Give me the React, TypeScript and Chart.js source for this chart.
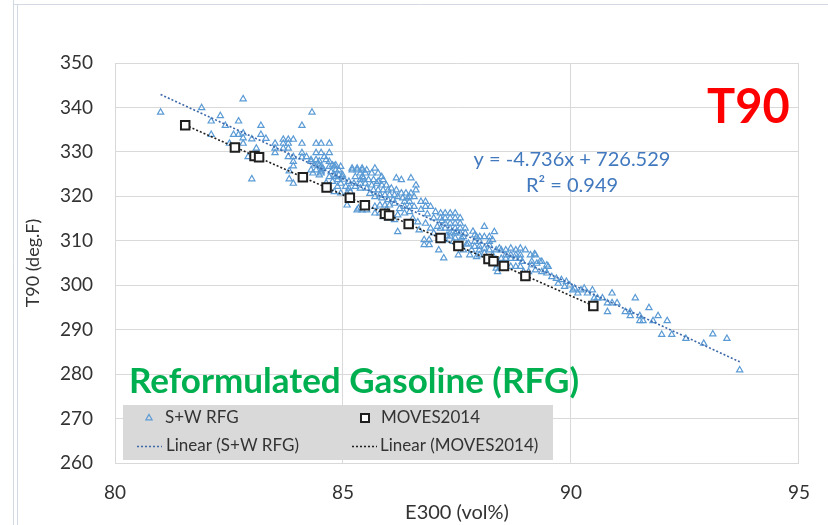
import React, { useEffect, useRef } from 'react';
import { Chart, registerables } from 'chart.js';

Chart.register(...registerables);

// ---- Axis ticks ----
const xTickValues = [80, 85, 90, 95];
const yTickValues = [260, 270, 280, 290, 300, 310, 320, 330, 340, 350];

// ---- Titles / labels ----
const xAxisTitle = 'E300 (vol%)';
const yAxisTitle = 'T90 (deg.F)';
const chartTag = 'T90';
const fuelLabel = 'Reformulated Gasoline (RFG)';
const legendLabels = ['S+W RFG', 'MOVES2014', 'Linear (S+W RFG)', 'Linear (MOVES2014)'];

// ---- S+W RFG trendline (as reported on chart) ----
const swSlope = -4.736;
const swIntercept = 726.529;
const swR2 = 0.949;

// ---- S+W RFG data: E300 (vol%) ----
const swE300 = [
  81.00, 81.90, 82.81, 82.31, 82.11, 82.42, 82.11, 82.71, 82.60, 82.71, 83.20, 83.20, 83.31, 82.81, 82.81, 82.81,
  83.00, 82.51, 82.92, 83.10, 83.10, 83.00, 83.51, 83.51, 83.51, 83.69, 83.80, 83.91, 83.69, 83.80, 83.69, 83.80,
  84.10, 84.32, 84.10, 84.41, 84.52, 84.70, 83.80, 83.91, 84.10, 84.10, 84.41, 84.52, 84.70, 83.91, 83.91, 83.82,
  83.82, 83.91, 84.30, 84.41, 84.48, 84.63, 84.41, 84.52,
  84.48, 84.56, 84.34, 84.52, 84.70, 84.81, 84.91, 84.81, 84.70, 84.99, 85.20, 85.31, 85.42, 85.27, 85.42, 85.13,
  85.38, 85.06, 85.27, 84.88,
  85.20, 85.31, 85.42, 85.52, 85.70, 85.63, 85.77, 85.85, 85.38, 85.49, 85.45, 85.56, 85.67, 85.77, 85.88, 85.24,
  85.38, 85.49, 85.63, 85.74, 85.85, 85.95, 86.06, 86.17, 86.28, 86.49, 85.38, 85.52, 85.67, 85.77, 85.88, 85.99,
  86.17, 86.28, 86.38, 86.49, 86.13, 85.81, 85.92, 86.02, 85.70, 85.85, 85.99, 86.10, 86.20, 86.31, 86.42, 86.13,
  86.02, 85.92, 85.81, 85.70, 85.31, 85.34, 85.42, 85.52, 85.45, 85.09, 84.84, 84.95, 84.84, 84.91, 84.98, 84.88,
  84.77, 84.95, 84.81, 84.95, 84.30, 84.37, 84.45, 84.52, 84.30, 84.52, 84.48, 84.70, 84.77, 84.84, 85.09, 85.13,
  84.20, 84.59,
  86.46, 86.56, 86.35, 86.46, 86.35, 86.46, 86.56, 86.60, 86.60, 86.71, 86.81, 86.71, 86.81, 86.46, 86.35, 86.20,
  86.13, 85.99, 85.88, 85.81, 85.70, 86.20, 86.67, 86.78, 86.89, 86.78, 86.89, 87.10, 87.21, 86.99, 87.14, 87.24,
  87.35, 87.46, 87.57, 87.46, 87.35, 87.24, 87.35, 87.46, 87.57, 87.14, 87.24, 87.35, 87.46, 87.57, 87.68, 87.35,
  87.46, 87.57, 87.68, 87.35, 87.46, 87.60, 88.10, 87.89, 88.00, 88.10, 88.21, 88.32, 88.28, 88.21, 88.00, 87.89,
  88.43, 88.57, 88.68, 88.79, 88.89, 89.00, 89.11, 89.22, 89.14, 88.93, 88.36, 88.39, 86.81, 86.92, 86.99, 86.92,
  87.03, 87.14, 87.24, 87.24,
  87.50, 87.64, 87.75, 87.64, 87.53, 87.82, 87.93, 87.99, 88.10, 88.21, 88.28, 88.36, 87.78, 87.89, 87.99, 87.93,
  87.99, 88.10, 88.21, 88.36, 88.47, 88.57, 88.68, 88.79, 88.89, 88.47, 88.57, 88.68, 88.79, 88.89, 88.57, 88.68,
  88.79, 88.89, 88.39, 89.20, 88.96, 89.07, 89.14, 89.25, 89.32, 89.50, 89.36, 89.47, 89.58, 89.68, 89.79, 89.90,
  89.97, 90.08, 90.15, 90.22, 90.29, 90.36, 90.47, 90.51, 90.58, 90.69, 90.90, 90.80, 90.90, 91.01, 90.80, 91.41,
  91.19, 91.30, 91.30, 91.51, 91.51, 91.58, 91.80, 91.71, 91.91, 92.11, 91.99, 92.21, 92.52, 92.91, 93.11, 93.42,
  93.70, 89.72, 89.86, 90.04, 89.43, 89.22, 89.36, 89.47,
  84.63, 84.74, 85.02, 85.16, 85.59, 85.95, 86.24, 86.53, 86.64, 86.85, 87.07, 87.17, 87.28, 87.42, 87.71, 87.85,
];

// ---- S+W RFG data: T90 (deg.F) ----
const swT90 = [
  338.9, 339.9, 341.9, 338.1, 336.9, 335.9, 333.9, 336.9, 333.9, 333.9, 335.9, 333.9, 333.0, 334.2, 333.1, 331.9,
  332.9, 331.9, 328.9, 328.8, 330.8, 323.9, 331.9, 330.8, 329.8, 332.8, 332.8, 332.8, 331.9, 331.9, 330.8, 330.8,
  335.9, 338.9, 331.9, 331.9, 331.9, 331.9, 328.9, 328.9, 329.8, 328.8, 329.8, 329.8, 329.8, 327.8, 326.8, 325.7,
  323.9, 322.9, 328.2, 328.2, 327.9, 328.2, 325.9, 325.9,
  327.0, 326.3, 325.2, 325.2, 327.8, 326.8, 325.9, 324.8, 324.4, 324.8, 325.9, 325.9, 325.9, 324.4, 324.4, 323.3,
  323.7, 322.2, 322.2, 322.2,
  326.3, 326.3, 326.3, 325.9, 326.3, 325.2, 325.2, 324.4, 325.2, 325.2, 324.1, 323.7, 323.7, 323.3, 323.7, 322.9,
  322.9, 322.9, 322.5, 322.9, 322.5, 322.5, 321.8, 324.1, 323.7, 324.1, 321.8, 321.8, 321.4, 321.4, 321.4, 321.4,
  321.4, 320.7, 320.7, 320.7, 320.3, 320.3, 320.3, 320.3, 319.9, 319.6, 319.2, 319.2, 319.9, 319.6, 319.6, 318.4,
  318.0, 318.0, 318.0, 317.7, 316.9, 317.3, 316.9, 316.9, 318.0, 318.0, 327.0, 326.7, 325.9, 324.8, 324.4, 323.7,
  323.3, 322.9, 321.0, 320.7, 327.8, 327.0, 327.4, 326.7, 325.9, 325.6, 324.8, 326.7, 327.0, 324.4, 320.7, 321.8,
  328.9, 328.9,
  319.9, 319.9, 318.8, 318.8, 317.7, 317.7, 317.7, 322.5, 321.4, 318.8, 318.8, 317.0, 317.7, 316.5, 316.2, 315.8,
  314.7, 315.1, 315.4, 316.2, 316.2, 312.0, 312.4, 310.2, 310.2, 309.1, 309.1, 307.9, 306.1, 315.1, 315.1, 315.1,
  315.1, 315.1, 315.1, 316.2, 316.2, 313.9, 313.9, 313.9, 313.9, 312.8, 312.8, 312.8, 312.8, 312.8, 312.8, 311.7,
  311.7, 311.7, 311.7, 311.0, 310.6, 310.6, 313.2, 311.3, 310.9, 310.9, 310.9, 312.0, 310.2, 309.8, 309.8, 309.8,
  308.3, 307.9, 308.3, 307.9, 308.3, 307.9, 306.8, 306.8, 305.3, 305.3, 303.8, 303.0, 313.9, 312.8, 311.7, 317.7,
  316.5, 316.2, 316.2, 310.2,
  312.0, 310.9, 309.4, 307.9, 306.8, 307.9, 306.4, 307.9, 307.2, 307.9, 306.8, 305.7, 306.8, 308.7, 308.7, 310.9,
  306.8, 308.3, 309.0, 307.9, 307.9, 306.8, 306.8, 306.8, 306.8, 306.0, 306.0, 306.0, 306.0, 306.0, 304.2, 304.2,
  304.2, 304.2, 304.5, 307.0, 303.0, 303.0, 304.5, 304.9, 305.3, 304.2, 303.0, 302.7, 301.9, 301.5, 301.2, 300.8,
  300.0, 299.3, 298.2, 298.9, 299.3, 298.2, 298.9, 297.1, 297.1, 297.1, 298.2, 296.0, 296.0, 296.0, 294.0, 297.1,
  294.0, 294.0, 293.1, 293.1, 292.0, 292.0, 292.0, 294.9, 293.1, 292.0, 288.9, 288.9, 288.0, 286.9, 289.0, 288.0,
  280.9, 300.4, 299.7, 298.9, 303.4, 303.4, 305.3, 304.5,
  323.0, 325.5, 323.8, 321.0, 320.6, 317.0, 317.2, 315.0, 314.2, 316.0, 313.2, 314.5, 311.2, 309.8, 309.2, 312.1,
];

// ---- MOVES2014 data ----
const movesE300 = [81.54, 82.63, 83.06, 83.16, 84.12, 84.64, 85.15, 85.48, 85.92, 86.01, 86.44, 87.14, 87.53, 88.19, 88.30, 88.53, 89.00, 90.49];
const movesT90 = [336.0, 331.0, 329.1, 328.8, 324.3, 322.0, 319.7, 318.0, 316.1, 315.7, 313.8, 310.6, 308.8, 305.9, 305.4, 304.3, 302.1, 295.3];

// ---- Colours / fonts ----
const FONT = 'Lato, "Open Sans", sans-serif';
const TEXT = '#333333';
const GRID = '#D9D9D9';
const SW_COLOR = '#5B9BD5';
const SW_LINE = '#3C67A8';
const MOVES_COLOR = '#1F1F1F';

function linReg(xs: number[], ys: number[]) {
  const n = xs.length;
  let sx = 0, sy = 0, sxx = 0, sxy = 0;
  for (let i = 0; i < n; i++) { sx += xs[i]; sy += ys[i]; sxx += xs[i] * xs[i]; sxy += xs[i] * ys[i]; }
  const m = (n * sxy - sx * sy) / (n * sxx - sx * sx);
  const b = (sy - m * sx) / n;
  return { m, b };
}

const decorPlugin = {
  id: 'decor',
  afterDraw(chart: any) {
    const ctx = chart.ctx as CanvasRenderingContext2D;
    ctx.save();
    // slide frame lines
    ctx.strokeStyle = '#D3D9E2';
    ctx.lineWidth = 1;
    ctx.beginPath();
    ctx.moveTo(13, 4.5); ctx.lineTo(828, 4.5);
    ctx.moveTo(13.5, 0); ctx.lineTo(13.5, 525);
    ctx.moveTo(17.5, 5); ctx.lineTo(17.5, 525);
    ctx.stroke();

    // T90 tag
    ctx.fillStyle = '#FF0000';
    ctx.font = `bold 47px ${FONT}`;
    ctx.textAlign = 'left';
    ctx.textBaseline = 'alphabetic';
    ctx.fillText(chartTag, 707, 123);

    // equation
    ctx.fillStyle = '#4178BE';
    ctx.font = `20px ${FONT}`;
    ctx.textAlign = 'center';
    ctx.textBaseline = 'middle';
    const sign = swIntercept >= 0 ? '+' : '-';
    ctx.fillText(`y = ${swSlope.toFixed(3)}x ${sign} ${Math.abs(swIntercept).toFixed(3)}`, 572, 160);
    ctx.fillText(`R\u00B2 = ${swR2.toFixed(3)}`, 572, 186);

    // fuel label
    ctx.fillStyle = '#00B050';
    ctx.font = `bold 35px ${FONT}`;
    ctx.textAlign = 'left';
    ctx.textBaseline = 'alphabetic';
    ctx.fillText(fuelLabel, 129, 393);

    // legend box
    ctx.fillStyle = '#D9D9D9';
    ctx.fillRect(123, 405, 430, 55);
    const r1 = 418, r2 = 446;
    // triangle marker
    const tr = 3.6;
    ctx.strokeStyle = SW_COLOR;
    ctx.lineWidth = 1.2;
    ctx.beginPath();
    ctx.moveTo(149, r1 - tr);
    ctx.lineTo(149 - tr * 0.866, r1 + tr / 2);
    ctx.lineTo(149 + tr * 0.866, r1 + tr / 2);
    ctx.closePath();
    ctx.stroke();
    // square marker
    ctx.strokeStyle = MOVES_COLOR;
    ctx.lineWidth = 2;
    ctx.fillStyle = '#FFFFFF';
    ctx.fillRect(361, r1 - 4, 8, 8);
    ctx.strokeRect(361, r1 - 4, 8, 8);
    // dotted lines
    ctx.setLineDash([2, 2]);
    ctx.lineWidth = 1.5;
    ctx.strokeStyle = SW_LINE;
    ctx.beginPath(); ctx.moveTo(137, r2 + 0.5); ctx.lineTo(162, r2 + 0.5); ctx.stroke();
    ctx.strokeStyle = MOVES_COLOR;
    ctx.beginPath(); ctx.moveTo(352, r2 + 0.5); ctx.lineTo(377, r2 + 0.5); ctx.stroke();
    ctx.setLineDash([]);
    // legend texts
    ctx.fillStyle = TEXT;
    ctx.font = `17px ${FONT}`;
    ctx.textAlign = 'left';
    ctx.textBaseline = 'middle';
    ctx.fillText(legendLabels[0], 165, r1);
    ctx.fillText(legendLabels[1], 381, r1);
    ctx.fillText(legendLabels[2], 166, r2);
    ctx.fillText(legendLabels[3], 380, r2);
    ctx.restore();
  },
};

export default function App() {
  const canvasRef = useRef<HTMLCanvasElement | null>(null);

  useEffect(() => {
    if (!canvasRef.current) return;
    const swPts = swE300.map((x, i) => ({ x, y: swT90[i] }));
    const mvPts = movesE300.map((x, i) => ({ x, y: movesT90[i] }));
    const swMin = Math.min(...swE300), swMax = Math.max(...swE300);
    const swLine = [
      { x: swMin, y: swSlope * swMin + swIntercept },
      { x: swMax, y: swSlope * swMax + swIntercept },
    ];
    const mv = linReg(movesE300, movesT90);
    const mvMin = Math.min(...movesE300), mvMax = Math.max(...movesE300);
    const mvLine = [
      { x: mvMin, y: mv.m * mvMin + mv.b },
      { x: mvMax, y: mv.m * mvMax + mv.b },
    ];

    Chart.defaults.font.family = FONT;

    const chart = new Chart(canvasRef.current, {
      type: 'scatter',
      data: {
        datasets: [
          {
            label: legendLabels[1],
            data: mvPts,
            pointStyle: 'rect',
            pointRadius: 6,
            borderWidth: 2,
            borderColor: MOVES_COLOR,
            backgroundColor: '#FFFFFF',
            order: 0,
          },
          {
            label: legendLabels[2],
            data: swLine,
            showLine: true,
            pointRadius: 0,
            borderColor: SW_LINE,
            borderWidth: 1.6,
            borderDash: [2, 2],
            order: 1,
          },
          {
            label: legendLabels[3],
            data: mvLine,
            showLine: true,
            pointRadius: 0,
            borderColor: MOVES_COLOR,
            borderWidth: 1.6,
            borderDash: [2, 2],
            order: 1,
          },
          {
            label: legendLabels[0],
            data: swPts,
            pointStyle: 'triangle',
            pointRadius: 3.6,
            borderWidth: 1.2,
            borderColor: SW_COLOR,
            backgroundColor: 'rgba(0,0,0,0)',
            order: 2,
          },
        ],
      },
      options: {
        animation: false,
        responsive: false,
        devicePixelRatio: 1,
        events: [],
        layout: { padding: { top: 63, right: 16, left: 0, bottom: 0 } },
        plugins: { legend: { display: false }, tooltip: { enabled: false } },
        scales: {
          x: {
            type: 'linear',
            min: xTickValues[0],
            max: xTickValues[xTickValues.length - 1],
            afterBuildTicks: (s: any) => { s.ticks = xTickValues.map((v) => ({ value: v })); },
            afterFit: (s: any) => { s.height = 62; },
            grid: { color: GRID, lineWidth: 1, drawTicks: false },
            border: { display: true, color: GRID },
            ticks: { color: TEXT, font: { size: 19, family: FONT }, padding: 18, maxRotation: 0 },
            title: { display: true, text: xAxisTitle, color: TEXT, font: { size: 20, family: FONT }, padding: { top: 0, bottom: 0 } },
          },
          y: {
            type: 'linear',
            min: yTickValues[0],
            max: yTickValues[yTickValues.length - 1],
            afterBuildTicks: (s: any) => { s.ticks = yTickValues.map((v) => ({ value: v })); },
            afterFit: (s: any) => { s.width = 115; },
            grid: { color: GRID, lineWidth: 1, drawTicks: false },
            border: { display: true, color: GRID },
            ticks: { color: TEXT, font: { size: 19, family: FONT }, padding: 22 },
            title: { display: true, text: yAxisTitle, color: TEXT, font: { size: 18, family: FONT }, padding: { top: 22, bottom: 0 } },
          },
        },
      },
      plugins: [decorPlugin],
    });
    return () => chart.destroy();
  }, []);

  return (
    <div style={{ position: 'absolute', left: 0, top: 0, width: 828, height: 525, background: '#FFFFFF' }}>
      <canvas ref={canvasRef} width={828} height={525} />
    </div>
  );
}
